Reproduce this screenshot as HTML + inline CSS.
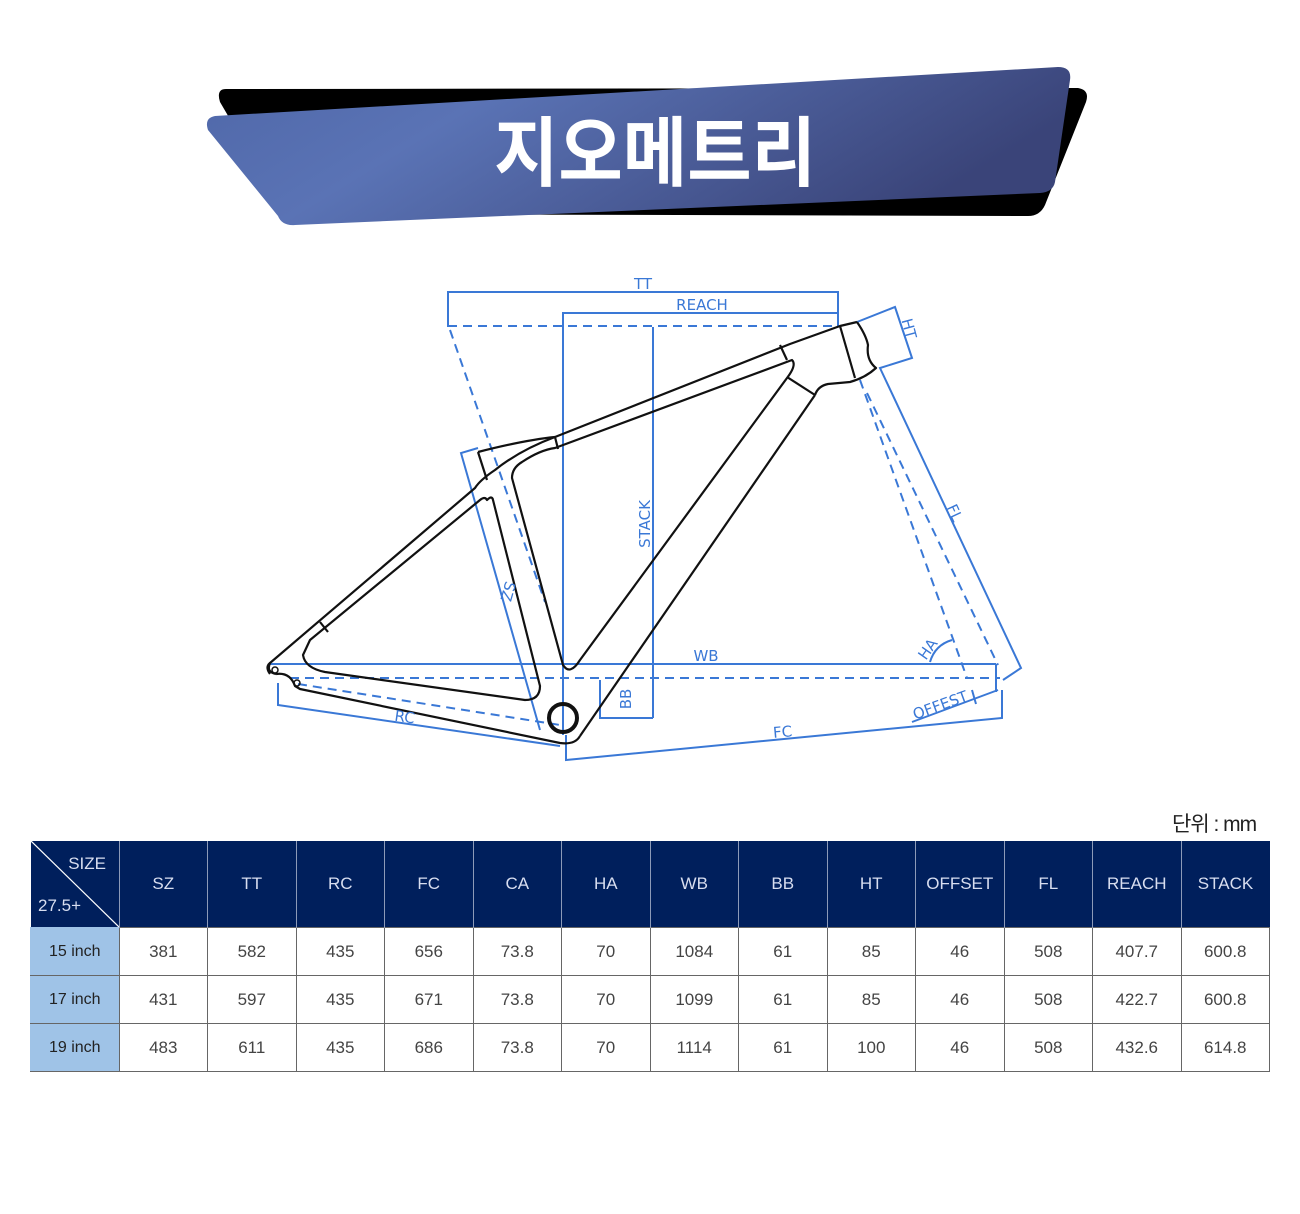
<!DOCTYPE html>
<html><head><meta charset="utf-8"><style>
body{margin:0;background:#fff;width:1300px;height:1214px;overflow:hidden;position:relative;font-family:"Liberation Sans","Noto Sans CJK KR",sans-serif}
svg{position:absolute;left:0;top:0}
table{position:absolute;left:30px;top:841px;border-collapse:collapse;width:1240px;table-layout:fixed}
td,th{text-align:center;font-weight:normal;font-size:17px;padding:0}
th{background:#001f5c;color:#d8def0;height:86px;border-left:1px solid #8c9ab8}
td{height:47px;border:1px solid #666;color:#444}
td.s{background:#9fc3e7;color:#222;font-size:16px;border-color:#9fc3e7 #666 #666 #9fc3e7}
.unit{position:absolute;left:1172px;top:808px;font-size:21px;color:#222;font-family:"Liberation Sans","Noto Sans CJK KR",sans-serif;letter-spacing:-1px}
</style></head><body>
<svg width="1300" height="800" viewBox="0 0 1300 800">
<defs><linearGradient id="g" x1="0" y1="0" x2="1" y2="0.3">
<stop offset="0" stop-color="#4f67a8"/><stop offset="0.35" stop-color="#5a73b5"/><stop offset="1" stop-color="#3a4479"/></linearGradient></defs>
<path d="M226 89 L1078 88 Q1090 90 1086 102 L1045 205 Q1040 216 1028 216 L300 214 Q285 214 280 205 L220 102 Q216 89 226 89Z" fill="#000"/>
<path d="M215 116 L1058 67 Q1072 67 1070 80 L1055 182 Q1053 192 1040 193 L295 225 Q282 226 278 216 L208 130 Q204 118 215 116Z" fill="url(#g)"/>
<text x="655" y="180" font-size="76" font-weight="bold" fill="#fff" text-anchor="middle" font-family="'Noto Sans CJK KR',sans-serif" textLength="322" lengthAdjust="spacingAndGlyphs">지오메트리</text>

<g stroke="#3a78d6" stroke-width="2" fill="none">
<polyline points="448,327 448,292 838,292 838,327"/>
<polyline points="563,735 563,313 838,313"/>
<line x1="653" y1="327" x2="653" y2="718"/>
<polyline points="600,680 600,718 653,718"/>
<line x1="270" y1="664" x2="996" y2="664"/><line x1="996" y1="664" x2="996" y2="692"/>
<polyline points="478,448 461,453 540,730"/>
<polyline points="278,683 278,705 560,746"/>
<polyline points="566,735 566,760 1002,718 1002,690"/>
<polyline points="857,322 895,307 912,358 880,368 1021,668 1003,680"/>
<path d="M930 662 Q935 645 952 640"/>
<line x1="912" y1="722" x2="998" y2="690"/>
<line x1="972" y1="690" x2="976" y2="704"/>
<g stroke-dasharray="9,6">
<line x1="448" y1="326" x2="838" y2="326"/>
<line x1="450" y1="330" x2="545" y2="602"/>
<line x1="290" y1="678" x2="1000" y2="678"/>
<line x1="298" y1="684" x2="560" y2="725"/>
<line x1="860" y1="380" x2="967" y2="678"/>
<line x1="867" y1="393" x2="998" y2="665"/>
</g>
</g>

<g stroke="#111" stroke-width="2.2" fill="none" stroke-linejoin="round">
<path d="M857 322 L840 326 L790 344 L555 437 Q525 440 478 452"/>
<path d="M857 322 Q866 335 868 345 Q866 360 876 368 Q865 378 850 382 L828 384 Q818 386 815 395"/>
<path d="M840 326 L855 378"/>
<path d="M780 345 L787 360"/>
<path d="M555 437 L558 449"/>
<path d="M478 452 L487 480"/>
<path d="M815 395 L580 736"/>
<path d="M787 377 L815 395"/>
<path d="M792 360 Q797 365 787 378 L580 660 Q570 676 563 665 L512 478 Q512 468 522 462 Q540 450 555 448 L792 360Z"/>
<path d="M555 437 Q520 450 495 470 Q480 480 475 488 L270 663 Q266 672 276 674"/>
<path d="M487 500 Q492 495 493 500 L540 686 Q540 700 525 700 L325 672 Q305 668 303 655 L310 640 L480 500 Q485 496 487 500Z"/>
<path d="M276 674 Q290 672 295 686 L300 689 L560 743 Q575 745 580 736"/>
<path d="M270 663 Q265 667 270 674"/>
<line x1="320" y1="622" x2="328" y2="632"/>
<circle cx="563" cy="718" r="14" stroke-width="4"/>
<circle cx="275" cy="670" r="3" stroke-width="1.5"/>
<circle cx="297" cy="683" r="3" stroke-width="1.5"/>
</g>

<g fill="#3a78d6" font-family="'DejaVu Sans',sans-serif" font-size="15">
<text x="643" y="289" text-anchor="middle">TT</text>
<text x="702" y="310" text-anchor="middle">REACH</text>
<text transform="translate(650,524) rotate(-90)" text-anchor="middle">STACK</text>
<text transform="translate(631,699) rotate(-90)" text-anchor="middle">BB</text>
<text x="706" y="661" text-anchor="middle">WB</text>
<text transform="translate(404,722) rotate(8)" text-anchor="middle">RC</text>
<text transform="translate(783,737) rotate(-5)" text-anchor="middle">FC</text>
<text transform="translate(503,590) rotate(106)" text-anchor="middle">SZ</text>
<text transform="translate(904,330) rotate(75)" text-anchor="middle">HT</text>
<text transform="translate(950,515) rotate(65)" text-anchor="middle">FL</text>
<text transform="translate(932,652) rotate(-55)" text-anchor="middle">HA</text>
<text transform="translate(942,710) rotate(-20)" text-anchor="middle">OFFEST</text>
</g>
</svg>
<div class="unit">단위 : mm</div>
<table>
<tr><th style="position:relative;width:88px;border-left:none"><svg width="88" height="86" style="position:absolute;left:0;top:0"><line x1="0" y1="0" x2="88" y2="86" stroke="#fff" stroke-width="1.2"/><text x="75" y="28" fill="#d8def0" font-size="17" text-anchor="end" font-family="Liberation Sans,sans-serif">SIZE</text><text x="7" y="70" fill="#d8def0" font-size="17" font-family="Liberation Sans,sans-serif">27.5+</text></svg></th>
<th>SZ</th><th>TT</th><th>RC</th><th>FC</th><th>CA</th><th>HA</th><th>WB</th><th>BB</th><th>HT</th><th>OFFSET</th><th>FL</th><th>REACH</th><th>STACK</th></tr>
<tr><td class="s">15 inch</td><td>381</td><td>582</td><td>435</td><td>656</td><td>73.8</td><td>70</td><td>1084</td><td>61</td><td>85</td><td>46</td><td>508</td><td>407.7</td><td>600.8</td></tr>
<tr><td class="s">17 inch</td><td>431</td><td>597</td><td>435</td><td>671</td><td>73.8</td><td>70</td><td>1099</td><td>61</td><td>85</td><td>46</td><td>508</td><td>422.7</td><td>600.8</td></tr>
<tr><td class="s">19 inch</td><td>483</td><td>611</td><td>435</td><td>686</td><td>73.8</td><td>70</td><td>1114</td><td>61</td><td>100</td><td>46</td><td>508</td><td>432.6</td><td>614.8</td></tr>
</table>
</body></html>
